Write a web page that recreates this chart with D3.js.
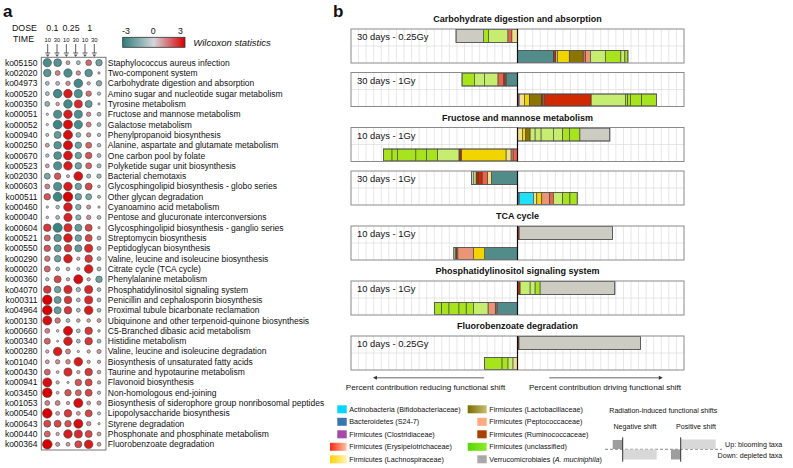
<!DOCTYPE html>
<html>
<head>
<meta charset="utf-8">
<script src="https://cdn.jsdelivr.net/npm/d3@7"></script>
<style>
  body { margin: 0; background: #fff; }
  text { font-family: "Liberation Sans", Arial, sans-serif; fill: #111; }
</style>
</head>
<body>
<svg id="fig" width="793" height="468"></svg>
<script>
// ---- panel a data ----
const koIds = ["ko05150","ko02020","ko04973","ko00520","ko00350","ko00051","ko00052","ko00940",
  "ko00250","ko00670","ko00523","ko02030","ko00603","ko00511","ko00460","ko00040","ko00604",
  "ko00521","ko00550","ko00290","ko00020","ko00360","ko04070","ko00311","ko04964","ko00130",
  "ko00660","ko00340","ko00280","ko01040","ko00430","ko00941","ko03450","ko01053","ko00540",
  "ko00643","ko00440","ko00364"];
const koNames = ["Staphylococcus aureus infection","Two-component system",
  "Carbohydrate digestion and absorption","Amino sugar and nucleotide sugar metabolism",
  "Tyrosine metabolism","Fructose and mannose metabolism","Galactose metabolism",
  "Phenylpropanoid biosynthesis","Alanine, aspartate and glutamate metabolism",
  "One carbon pool by folate","Polyketide sugar unit biosynthesis","Bacterial chemotaxis",
  "Glycosphingolipid biosynthesis - globo series","Other glycan degradation",
  "Cyanoamino acid metabolism","Pentose and glucuronate interconversions",
  "Glycosphingolipid biosynthesis - ganglio series","Streptomycin biosynthesis",
  "Peptidoglycan biosynthesis","Valine, leucine and isoleucine biosynthesis",
  "Citrate cycle (TCA cycle)","Phenylalanine metabolism","Phosphatidylinositol signaling system",
  "Penicillin and cephalosporin biosynthesis","Proximal tubule bicarbonate reclamation",
  "Ubiquinone and other terpenoid-quinone biosynthesis","C5-Branched dibasic acid metabolism",
  "Histidine metabolism","Valine, leucine and isoleucine degradation",
  "Biosynthesis of unsaturated fatty acids","Taurine and hypotaurine metabolism",
  "Flavonoid biosynthesis","Non-homologous end-joining",
  "Biosynthesis of siderophore group nonribosomal peptides","Lipopolysaccharide biosynthesis",
  "Styrene degradation","Phosphonate and phosphinate metabolism","Fluorobenzoate degradation"];
const doseLabels = ["0.1", "0.25", "1"];
const timeLabels = ["10", "30", "10", "30", "10", "30"];
const colorTicks = [-3, 0, 3];
// wilcoxon statistic per pathway, columns = dose/time pairs
const wilcoxon = [
  [-2.5,-2.3, 0.8,-0.8, 1.5,-1.8],
  [-2.2, 1.2,-2.5, 1.0,-2.2, 0.2],
  [-0.8,-0.8, 1.0,-2.6, 0.6,-1.4],
  [-0.8,-2.6, 2.6,-2.4, 1.4,-0.6],
  [-1.2, 0.7,-2.6, 2.4,-2.0, 0.2],
  [ 0.2,-2.4, 2.6,-2.4, 1.0,-0.8],
  [ 0.2,-2.7, 2.8,-2.5, 1.2,-0.8],
  [-0.5,-2.0, 2.8,-1.2, 1.0,-0.6],
  [ 0.8,-2.2, 2.8,-1.8, 1.6,-0.7],
  [-0.6,-2.3, 2.7,-1.8, 1.8,-0.8],
  [ 0.8,-2.4, 2.6,-1.8, 1.6,-0.9],
  [-1.6, 1.8, 0.5, 2.7,-0.9,-1.0],
  [ 1.2,-2.4, 2.6,-1.8, 2.0,-0.4],
  [ 1.8,-2.7, 3.0,-1.8,-1.6,-0.5],
  [ 0.2,-0.7, 2.6,-1.4, 0.9, 0.2],
  [ 0.3,-0.8, 2.5,-1.3, 1.0,-0.8],
  [ 2.2,-2.8, 2.4,-2.0, 2.0, 0.2],
  [ 1.6,-2.2, 2.6,-1.8, 2.0,-0.8],
  [ 1.8,-2.0, 2.2,-2.0, 2.4,-0.8],
  [ 1.4,-1.8, 2.6, 0.6, 2.2,-0.8],
  [ 1.6,-0.8, 0.7,-0.5, 2.6,-0.8],
  [-0.6, 2.0, 0.6, 2.8, 0.6,-1.8],
  [ 2.2,-1.8, 2.4,-1.0, 2.4,-0.8],
  [ 3.0,-2.0, 2.2,-0.8, 2.4,-0.8],
  [ 3.0,-2.0, 2.2,-0.8, 2.6,-0.8],
  [ 2.8, 1.4,-0.8, 0.7, 0.7, 0.8],
  [ 1.2, 0.3, 2.8,-0.8, 2.2, 0.3],
  [ 1.6, 0.1, 2.6,-0.8, 2.2,-0.8],
  [ 0.6, 2.6, 1.2, 0.2, 0.6, 0.9],
  [ 0.8, 1.0, 1.1, 2.6, 0.6, 0.6],
  [ 1.6, 0.4, 2.4, 0.6, 2.2, 0.7],
  [ 2.8, 0.6, 0.2, 1.8, 2.0, 0.6],
  [ 3.0, 0.4, 1.8, 1.6, 2.0,-0.6],
  [ 1.2, 1.2, 0.6, 2.8, 0.8, 0.9],
  [ 3.0, 0.8, 2.2, 0.8, 2.0,-0.5],
  [ 2.0, 2.0, 1.8, 2.8, 1.0, 0.2],
  [ 1.6, 0.6, 2.6, 2.4, 2.0, 0.8],
  [ 3.0, 0.9, 0.8, 2.0, 2.6, 0.8]
];

// ---- panel b data ----
const shiftPathways = ["Carbohydrate digestion and absorption","Fructose and mannose metabolism",
  "TCA cycle","Phosphatidylinositol signaling system","Fluorobenzoate degradation"];
const shiftGroup = [0, 0, 1, 1, 2, 3, 4];
const shiftLabels = ["30 days - 0.25Gy","30 days - 1Gy","10 days - 1Gy","30 days - 1Gy",
  "10 days - 1Gy","10 days - 1Gy","10 days - 0.25Gy"];
// segments listed from the centre line outwards: [shade, signed contribution]
const upperBars = [
  [["lyellow",-0.75],["tomato",-0.53],["lgreen",-2.54],["lime",-0.66],["gray",-3.64]],
  [["teal",-1.49],["lyellow",-0.13],["dred",-0.22],["tomato",-0.75],["lgreen",-1.75],["lgreen",-1.32],["lime",-1.67]],
  [["lyellow",0.66],["yellow",0.44],["olive",0.57],["lgreen",0.66],["lgreen",0.79],["lgreen",1.62],["lgreen",1.23],["lime",0.88],["lime",1.4],["gray",3.95]],
  [["teal",-3.46],["lyellow",-0.48],["tomato",-0.75],["red",-0.53],["dred",-0.26],["lgreen",-0.3],["gray",-0.3]],
  [["dred",0.22],["gray",12.32]],
  [["dred",0.35],["lgreen",1.32],["lgreen",0.66],["lime",0.66],["gray",9.87]],
  [["dred",0.2],["gray",16.05]]
];
const lowerBars = [
  [["teal",4.78],["dred",0.3],["lyellow",0.18],["yellow",1.58],["olive",1.84],["tomato",0.3],["salmon",0.65],["lgreen",1.97],["lime",2.06],["lgreen",0.53],["lime",0.4]],
  [["purple",0.22],["lyellow",0.7],["yellow",0.66],["olive",1.62],["dred",0.2],["salmon",0.2],["red",6.14],["lgreen",4.52],["lime",0.3],["lime",0.36],["lime",1.49],["lime",1.97]],
  [["tomato",-0.6],["salmon",-0.26],["lyellow",-0.66],["yellow",-5.92],["dred",-0.3],["lgreen",-2.85],["lime",-1.45],["lime",-1.4],["lime",-2.41],["lime",-0.75],["lime",-1.1]],
  [["teal",0.22],["cyan",1.89],["lyellow",0.44],["yellow",0.66],["salmon",1.0],["tomato",0.53],["lgreen",1.23],["lime",0.96],["lime",0.96]],
  [["teal",-4.34],["yellow",-1.45],["salmon",-2.1],["tomato",-0.15],["dred",-0.15],["lgreen",-0.22]],
  [["teal",-2.72],["tomato",-0.22],["salmon",-0.96],["lgreen",-1.89],["lime",-1.0],["lime",-0.96],["lime",-1.32],["lime",-1.0],["lime",-0.88]],
  [["lyellow",-0.61],["lgreen",-0.66],["lime",-0.79],["lime",-2.28]]
];
const taxaNames = ["Actinobacteria (Bifidobacteriaceae)","Bacteroidetes (S24-7)",
  "Firmicutes (Clostridiaceae)","Firmicutes (Erysipelotrichaceae)","Firmicutes (Lachnospiraceae)",
  "Firmicutes (Lactobacillaceae)","Firmicutes (Peptococcaceae)","Firmicutes (Ruminococcaceae)",
  "Firmicutes (unclassified)","Verrucomicrobiales (A. muciniphila)"];

// ---- styles ----
const shade = {
  cyan: "#1ee0fa", teal: "#528c8a", purple: "#a040a0", tomato: "#e8644e", red: "#d02a00",
  dred: "#a83418", salmon: "#ea9676", yellow: "#f2d400", lyellow: "#f0e08c", olive: "#8c7400",
  lime: "#a8e41e", lgreen: "#c6ec70", gray: "#cdccc2"
};
// legend swatch: [left colour, right colour, wide?]
const taxaSwatch = [
  ["#00d8ff","#00d8ff",false], ["#3a76ae","#3a76ae",false], ["#a848a8","#a848a8",false],
  ["#ff2a10","#ffc4a8",true], ["#ffd000","#fff6b0",true], ["#766e00","#cabe74",true],
  ["#ffaa80","#ffaa80",false], ["#a84000","#a84000",false], ["#5ad400","#8cec30",true],
  ["#a8a8a8","#a8a8a8",false]
];

const svg = d3.select("#fig");
const defs = svg.append("defs");

// ================= panel a =================
svg.append("text").attr("x", 3).attr("y", 17).attr("font-size", 17).attr("font-weight", "bold").text("a");

const colX = d3.scalePoint().domain(d3.range(6)).range([47.3, 99]);
const headX = d3.scalePoint().domain(d3.range(6)).range([47.7, 94.3]);
const rowY = d3.scalePoint().domain(koIds).range([62.7, 444.3]);
const wColor = d3.scaleLinear().domain([-3, 0, 3]).range(["#2e7e7b", "#d4d6dc", "#d60000"]);
const wRad = d3.scaleLinear().domain([0, 3]).range([0.9, 4.8]);

svg.append("text").attr("x", 12).attr("y", 31.3).attr("font-size", 8.8).text("DOSE");
svg.append("text").attr("x", 13).attr("y", 42.3).attr("font-size", 8.8).text("TIME");
svg.selectAll(".dose").data(doseLabels).enter().append("text")
  .attr("x", (d, i) => (headX(i * 2) + headX(i * 2 + 1)) / 2).attr("y", 31.3)
  .attr("text-anchor", "middle").attr("font-size", 8.8).text(d => d);
svg.selectAll(".time").data(timeLabels).enter().append("text")
  .attr("x", (d, i) => headX(i)).attr("y", 41.5)
  .attr("text-anchor", "middle").attr("font-size", 5.8).text(d => d);

const arrows = svg.append("g").attr("stroke", "#333").attr("stroke-width", 0.8);
timeLabels.forEach((t, i) => {
  const x = headX(i);
  arrows.append("line").attr("x1", x).attr("x2", x).attr("y1", 44).attr("y2", 53);
  arrows.append("line").attr("x1", x - 2.5).attr("x2", x + 2.5).attr("y1", 53).attr("y2", 53);
  arrows.append("path").attr("d", `M${x - 1.8},54.5 L${x + 1.8},54.5 L${x},57 Z`).attr("fill", "#555").attr("stroke", "none");
});

// colour bar
const cbGrad = defs.append("linearGradient").attr("id", "cbar");
[0, 0.5, 1].forEach((o, i) => cbGrad.append("stop").attr("offset", o).attr("stop-color", wColor(colorTicks[i])));
svg.append("rect").attr("x", 122.7).attr("y", 37.3).attr("width", 62.3).attr("height", 10)
  .attr("fill", "url(#cbar)").attr("stroke", "#333").attr("stroke-width", 0.8);
const cbX = d3.scaleLinear().domain([-3, 3]).range([126, 180.5]);
svg.selectAll(".cbt").data(colorTicks).enter().append("text")
  .attr("x", d => cbX(d)).attr("y", 34).attr("text-anchor", "middle").attr("font-size", 8.8).text(d => d);
svg.append("text").attr("x", 193.3).attr("y", 45.5).attr("font-size", 9.5).attr("font-style", "italic").text("Wilcoxon statistics");

svg.append("rect").attr("x", 41.3).attr("y", 57.3).attr("width", 64.7).attr("height", 392.7)
  .attr("fill", "none").attr("stroke", "#777").attr("stroke-width", 1);

svg.selectAll(".ko").data(koIds).enter().append("text")
  .attr("x", 37.5).attr("y", d => rowY(d) + 3).attr("text-anchor", "end").attr("font-size", 8.5).text(d => d);
svg.selectAll(".kon").data(koNames).enter().append("text")
  .attr("x", 107.8).attr("y", (d, i) => rowY(koIds[i]) + 3).attr("font-size", 8.5).text(d => d);

const cells = [];
wilcoxon.forEach((row, r) => row.forEach((v, c) => cells.push({ r, c, v })));
svg.append("g").selectAll("circle").data(cells).enter().append("circle")
  .attr("cx", d => colX(d.c)).attr("cy", d => rowY(koIds[d.r]))
  .attr("r", d => wRad(Math.abs(d.v)))
  .attr("fill", d => wColor(d.v)).attr("stroke", "#444").attr("stroke-width", 0.6);

// ================= panel b =================
svg.append("text").attr("x", 333).attr("y", 17).attr("font-size", 17).attr("font-weight", "bold").text("b");

const bx = d3.scaleLinear().domain([-22, 22]).range([351, 684]);
const boxH = 34;

// vertical layout: title, then its boxes
const boxTop = [];
const titleY = [];
let cursor = 19;
shiftGroup.forEach((g, i) => {
  if (i === 0 || shiftGroup[i - 1] !== g) {
    if (i > 0) cursor = boxTop[i - 1] + boxH + 11;
    titleY.push(cursor);
    boxTop.push(cursor + 10);
  } else {
    boxTop.push(boxTop[i - 1] + boxH + 9.5);
  }
});

svg.selectAll(".ptitle").data(shiftPathways).enter().append("text")
  .attr("x", bx(0)).attr("y", (d, i) => titleY[i] + 3.2).attr("text-anchor", "middle")
  .attr("font-size", 9).attr("font-weight", "bold").text(d => d);

function stack(segs) {
  let acc = 0;
  return segs.map(([k, v]) => {
    const s = { k, x0: acc, x1: acc + v };
    acc += v;
    return s;
  });
}

shiftLabels.forEach((lab, i) => {
  const top = boxTop[i];
  const g = svg.append("g");
  g.append("rect").attr("x", bx(-22)).attr("y", top).attr("width", bx(22) - bx(-22)).attr("height", boxH).attr("fill", "#fff");
  g.selectAll(".gl").data(d3.range(-21, 22)).enter().append("line")
    .attr("x1", d => bx(d)).attr("x2", d => bx(d)).attr("y1", top).attr("y2", top + boxH)
    .attr("stroke", "#dcdcdc").attr("stroke-width", 0.7);
  g.append("line").attr("x1", bx(-22)).attr("x2", bx(22)).attr("y1", top + 17).attr("y2", top + 17)
    .attr("stroke", "#dcdcdc").attr("stroke-width", 0.7);

  const bands = [[upperBars[i], top + 0.5, 13], [lowerBars[i], top + 21.5, 12]];
  bands.forEach(([segs, y, h]) => {
    const st = stack(segs);
    g.selectAll(null).data(st).enter().append("rect")
      .attr("x", d => bx(Math.min(d.x0, d.x1))).attr("y", y)
      .attr("width", d => Math.abs(bx(d.x1) - bx(d.x0))).attr("height", h)
      .attr("fill", d => shade[d.k]).attr("stroke", "#3a3a3a").attr("stroke-width", 0.6);
    const ext = d3.extent(st.flatMap(d => [d.x0, d.x1]));
    g.append("rect").attr("x", bx(ext[0])).attr("y", y).attr("width", bx(ext[1]) - bx(ext[0])).attr("height", h)
      .attr("fill", "none").attr("stroke", "#555").attr("stroke-width", 0.8);
  });

  g.append("rect").attr("x", bx(-22)).attr("y", top).attr("width", bx(22) - bx(-22)).attr("height", boxH)
    .attr("fill", "none").attr("stroke", "#8a8a8a").attr("stroke-width", 1);
  g.append("line").attr("x1", bx(0)).attr("x2", bx(0)).attr("y1", top).attr("y2", top + boxH)
    .attr("stroke", "#111").attr("stroke-width", 1.2);
  g.append("text").attr("x", 357).attr("y", top + 11).attr("font-size", 9.4).text(lab);
});

// direction arrows under the last box
const arrowY = boxTop[boxTop.length - 1] + boxH + 7.7;
const dirs = [
  { from: -4.4, to: -19.1, text: "Percent contribution reducing functional shift", cx: 425.5 },
  { from: 4.2, to: 19.2, text: "Percent contribution driving functional shift", cx: 605 }
];
dirs.forEach(d => {
  const x1 = bx(d.from), x2 = bx(d.to), s = Math.sign(x2 - x1);
  svg.append("line").attr("x1", x1).attr("x2", x2 - s * 3).attr("y1", arrowY).attr("y2", arrowY)
    .attr("stroke", "#999").attr("stroke-width", 1.6);
  svg.append("path").attr("d", `M${x2},${arrowY} L${x2 - s * 4},${arrowY - 2} L${x2 - s * 4},${arrowY + 2} Z`).attr("fill", "#333");
  svg.append("text").attr("x", d.cx).attr("y", arrowY + 12).attr("text-anchor", "middle")
    .attr("font-size", 8.1).text(d.text);
});

// taxa legend
const legY = d3.scalePoint().domain(d3.range(5)).range([409.3, 459.3]);
taxaNames.forEach((name, i) => {
  const col = Math.floor(i / 5), row = i % 5;
  const [c0, c1, wide] = taxaSwatch[i];
  const right = col === 0 ? 346.7 : 486.7;
  const w = wide ? (col === 0 ? 16.7 : 19) : 9.4;
  let fill = c0;
  if (c0 !== c1) {
    const gid = "lg" + i;
    const lg = defs.append("linearGradient").attr("id", gid);
    lg.append("stop").attr("offset", 0).attr("stop-color", c0);
    lg.append("stop").attr("offset", 1).attr("stop-color", c1);
    fill = `url(#${gid})`;
  }
  svg.append("rect").attr("x", right - w).attr("y", legY(row) - 4).attr("width", w).attr("height", 8).attr("fill", fill);
  const t = svg.append("text").attr("x", right + 2.6).attr("y", legY(row) + 2.6).attr("font-size", 7.2);
  const m = name.match(/^(.*\()(A\. muciniphila)(\))$/);
  if (m) {
    t.append("tspan").text(m[1]);
    t.append("tspan").attr("font-style", "italic").text(m[2]);
    t.append("tspan").text(m[3]);
  } else {
    t.text(name);
  }
});

// schematic of shift directions
const sch = svg.append("g");
sch.append("text").attr("x", 609.3).attr("y", 412.5).attr("font-size", 7.1).text("Radiation-induced functional shifts");
sch.append("text").attr("x", 635).attr("y", 428.5).attr("text-anchor", "middle").attr("font-size", 7.1).text("Negative shift");
sch.append("text").attr("x", 696).attr("y", 428.5).attr("text-anchor", "middle").attr("font-size", 7.1).text("Positive shift");
sch.append("line").attr("x1", 605).attr("x2", 722).attr("y1", 449.3).attr("y2", 449.3)
  .attr("stroke", "#555").attr("stroke-width", 0.7).attr("stroke-dasharray", "3,2");
sch.append("rect").attr("x", 612.7).attr("y", 440).attr("width", 10).attr("height", 9).attr("fill", "#9e9e9e");
sch.append("rect").attr("x", 622.7).attr("y", 449.5).attr("width", 34).attr("height", 10).attr("fill", "#d8d8d8");
sch.append("rect").attr("x", 680.7).attr("y", 439.5).attr("width", 35).attr("height", 9.5).attr("fill", "#d8d8d8");
sch.append("rect").attr("x", 671).attr("y", 449.5).attr("width", 9.7).attr("height", 10).attr("fill", "#9e9e9e");
[622.7, 680.7].forEach(x => sch.append("line").attr("x1", x).attr("x2", x).attr("y1", 437.3).attr("y2", 461.7)
  .attr("stroke", "#333").attr("stroke-width", 1));
sch.append("text").attr("x", 782.3).attr("y", 446.5).attr("text-anchor", "end").attr("font-size", 7.1).text("Up: blooming taxa");
sch.append("text").attr("x", 782.3).attr("y", 457.5).attr("text-anchor", "end").attr("font-size", 7.1).text("Down: depleted taxa");
</script>
</body>
</html>
